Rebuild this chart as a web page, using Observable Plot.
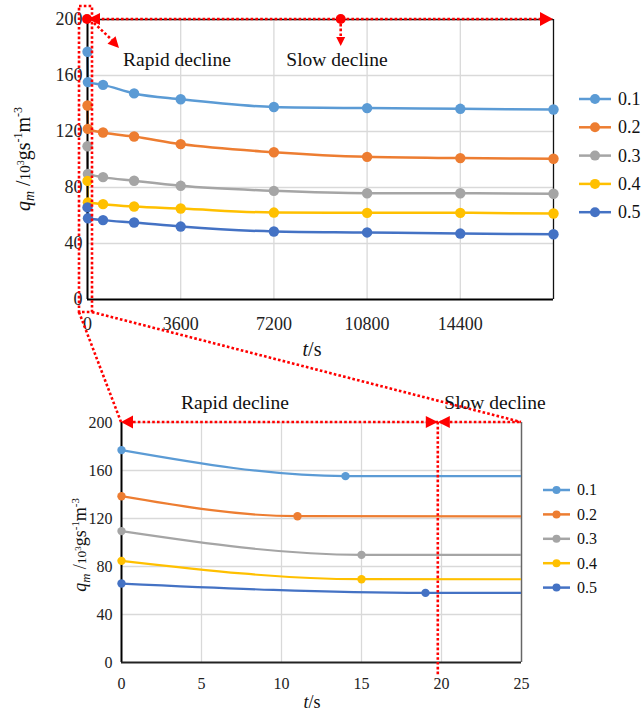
<!DOCTYPE html>
<html><head><meta charset="utf-8">
<script src="https://cdn.jsdelivr.net/npm/d3@7"></script>
<script src="https://cdn.jsdelivr.net/npm/@observablehq/plot@0.6"></script>
<style>
body{margin:0;background:#fff;}
#wrap{position:relative;width:641px;height:712px;font-family:"Liberation Serif","DejaVu Serif",serif;}
#wrap > svg{position:absolute;left:0;}
#wrap svg text{font-family:"Liberation Serif","DejaVu Serif",serif;}
</style></head><body><div id="wrap"></div>
<script>
// ---- data ----
const seriesNames = ["0.1", "0.2", "0.3", "0.4", "0.5"];
const seriesColors = ["#5B9BD5", "#ED7D31", "#A5A5A5", "#FFC000", "#4472C4"];
const breakTimes = [14, 11, 15, 15, 19];            // end of rapid decline (s)
const laterTimes = [600, 1800, 3600, 7200, 10800, 14400, 18000];
const q01 = [177, 155.3, 153.3, 147.2, 143, 137.5, 136.7, 136.2, 135.7];
const q02 = [138.6, 121.9, 119.3, 116.4, 111, 105.2, 101.9, 101, 100.5];
const q03 = [109.5, 89.7, 87.4, 84.8, 81.2, 77.6, 75.9, 75.9, 75.5];
const q04 = [84.7, 69.4, 68.1, 66.4, 65, 62.1, 61.9, 61.9, 61.4];
const q05 = [65.8, 58, 56.7, 55, 52.1, 48.6, 47.9, 47.1, 46.6];
const xTicksTop = [0, 3600, 7200, 10800, 14400];
const xTicksBottom = [0, 5, 10, 15, 20, 25];
const yTicks = [0, 40, 80, 120, 160, 200];
const slowMarkTop = 9800;     // red marker on the top chart
const splitBottom = 19.8;     // red divider on the bottom chart

const qSeries = [q01, q02, q03, q04, q05];
const data = [];
qSeries.forEach((qs, i) => {
  const ts = [0, breakTimes[i], ...laterTimes];
  qs.forEach((q, j) => data.push({t: ts[j], q, s: seriesNames[i]}));
});

const FONT = '"Liberation Serif","DejaVu Serif",serif';
const wrap = document.getElementById("wrap");

// ---- top chart ----
const topPlot = Plot.plot({
  width: 641, height: 360,
  marginLeft: 87, marginRight: 88, marginTop: 19, marginBottom: 61,
  style: {fontFamily: FONT, fontSize: "18px", color: "#222", background: "transparent", overflow: "visible"},
  x: {domain: [0, 18000], ticks: xTicksTop, tickSize: 0, tickPadding: 18, label: null, tickFormat: d => String(d)},
  y: {domain: [0, 200], ticks: yTicks, tickSize: 0, tickPadding: 5, label: null, tickFormat: d => String(d)},
  color: {domain: seriesNames, range: seriesColors},
  marks: [
    Plot.ruleX(xTicksTop.slice(1), {stroke: "#d9d9d9", strokeWidth: 1.3}),
    Plot.ruleY(yTicks.slice(1), {stroke: "#d9d9d9", strokeWidth: 1.3}),
    Plot.ruleX([18000], {stroke: "#111", strokeWidth: 1.3}),
    Plot.ruleY([200], {stroke: "#111", strokeWidth: 1.3}),
    Plot.line(data, {x: "t", y: "q", z: "s", stroke: "s", curve: "monotone-x", strokeWidth: 2.5}),
    Plot.ruleX([0], {stroke: "#000", strokeWidth: 2}),
    Plot.ruleY([0], {stroke: "#000", strokeWidth: 2}),
    Plot.dot(data, {x: "t", y: "q", fill: "s", r: 5.2})
  ]
});
topPlot.style.top = "0px";
wrap.appendChild(topPlot);

// ---- bottom chart ----
const dataZoom = data.filter(d => d.t <= 25);
const botPlot = Plot.plot({
  width: 641, height: 352,
  marginLeft: 121, marginRight: 120, marginTop: 62, marginBottom: 50,
  style: {fontFamily: FONT, fontSize: "16px", color: "#222", background: "transparent", overflow: "visible"},
  x: {domain: [0, 25], ticks: xTicksBottom, tickSize: 0, tickPadding: 15, label: null, tickFormat: d => String(d)},
  y: {domain: [0, 200], ticks: yTicks, tickSize: 0, tickPadding: 9, label: null, tickFormat: d => String(d)},
  color: {domain: seriesNames, range: seriesColors},
  marks: [
    Plot.ruleX(xTicksBottom.slice(1, -1), {stroke: "#d9d9d9", strokeWidth: 1.3}),
    Plot.ruleY(yTicks.slice(1), {stroke: "#d9d9d9", strokeWidth: 1.3}),
    Plot.ruleX([25], {stroke: "#666", strokeWidth: 1.5}),
    Plot.line(data, {x: "t", y: "q", z: "s", stroke: "s", curve: "monotone-x", strokeWidth: 2.2, clip: true}),
    Plot.ruleX([0], {stroke: "#000", strokeWidth: 2}),
    Plot.ruleY([0], {stroke: "#222", strokeWidth: 2}),
    Plot.dot(dataZoom, {x: "t", y: "q", fill: "s", r: 4.2})
  ]
});
botPlot.style.top = "360px";
wrap.appendChild(botPlot);

// ---- overlay: titles, legends, red annotations ----
const xT = v => topPlot.scale("x").apply(v);
const yT = v => topPlot.scale("y").apply(v);
const OY = 360;
const xB = v => botPlot.scale("x").apply(v);
const yB = v => botPlot.scale("y").apply(v) + OY;

const svg = d3.select(wrap).append("svg")
  .attr("width", 641).attr("height", 712)
  .attr("font-family", FONT)
  .style("top", "0px").style("overflow", "visible");

const RED = "#ff0000";
const dotted = sel => sel.attr("stroke", RED).attr("stroke-width", 2.6).attr("stroke-dasharray", "2.6 2.2").attr("fill", "none");
function seg(x1, y1, x2, y2) { svg.append("line").attr("x1", x1).attr("y1", y1).attr("x2", x2).attr("y2", y2).call(dotted); }
function head(tx, ty, angle, len, half) {
  const a = angle * Math.PI / 180;
  const bx = tx - len * Math.cos(a), by = ty - len * Math.sin(a);
  const px = -Math.sin(a) * half, py = Math.cos(a) * half;
  svg.append("polygon").attr("points", `${tx},${ty} ${bx + px},${by + py} ${bx - px},${by - py}`).attr("fill", RED);
}
function label(x, y, txt, size) {
  svg.append("text").attr("x", x).attr("y", y).attr("text-anchor", "middle")
    .attr("font-size", size).attr("fill", "#111").text(txt);
}

// top chart annotations
const t200 = yT(200), t0 = xT(0), tEnd = xT(18000);
const rectL = t0 - 8, rectR = t0 + 5, rectT = 6, rectB = yT(0) + 13;
svg.append("rect").attr("x", rectL).attr("y", rectT).attr("width", rectR - rectL).attr("height", rectB - rectT).call(dotted);
seg(t0 + 10, t200, tEnd - 12, t200);
head(tEnd, t200, 0, 13, 7);
head(t0 + 1, t200, 180, 12, 6);
svg.append("circle").attr("cx", t0).attr("cy", t200).attr("r", 5).attr("fill", RED);
seg(t0 + 7, t200 + 4, t0 + 25, t200 + 21);
head(t0 + 32, t200 + 29, 47, 11, 5.5);
const sm = xT(slowMarkTop);
svg.append("circle").attr("cx", sm).attr("cy", t200).attr("r", 5).attr("fill", RED);
seg(sm, t200, sm, t200 + 19);
head(sm, t200 + 27, 90, 9, 4.5);
label(177, 66, "Rapid decline", 19.5);
label(337, 66, "Slow decline", 19.5);

// zoom connectors
seg(rectL, rectB, xB(0), yB(200));
seg(rectR, rectB, xB(25), yB(200));

// bottom chart annotations
const b200 = yB(200), bs = xB(splitBottom);
seg(xB(0) + 12, b200, xB(25), b200);
head(xB(0), b200, 180, 12, 6.5);
seg(bs, b200, bs, yB(0) + 13);
head(bs, b200, 0, 12, 6);
head(bs, b200, 180, 12, 6);
label(235, 409, "Rapid decline", 19.5);
label(495, 409, "Slow decline", 19.5);

// axis titles
function yTitle(x, y, size) {
  const t = svg.append("text").attr("transform", `translate(${x},${y}) rotate(-90)`)
    .attr("text-anchor", "middle").attr("font-size", size).attr("fill", "#111");
  const s = size;
  t.append("tspan").attr("font-style", "italic").text("q");
  t.append("tspan").attr("font-style", "italic").attr("font-size", s * 0.7).attr("dy", s * 0.22).text("m");
  t.append("tspan").attr("dy", -s * 0.22).text(" /");
  t.append("tspan").attr("font-size", s * 0.75).text("10");
  t.append("tspan").attr("font-size", s * 0.5).attr("dy", -s * 0.3).text("3");
  t.append("tspan").attr("dy", s * 0.3).text("gs");
  t.append("tspan").attr("font-size", s * 0.6).attr("dy", -s * 0.38).text("-1");
  t.append("tspan").attr("dy", s * 0.38).text("m");
  t.append("tspan").attr("font-size", s * 0.6).attr("dy", -s * 0.38).text("-3");
}
yTitle(30, (yT(0) + yT(200)) / 2, 20);
yTitle(86, (yB(0) + yB(200)) / 2 + 3, 18);

function xTitle(x, y, size) {
  const t = svg.append("text").attr("x", x).attr("y", y).attr("text-anchor", "middle").attr("font-size", size).attr("fill", "#111");
  t.append("tspan").attr("font-style", "italic").text("t");
  t.append("tspan").text("/s");
}
xTitle(312, 356, 20);
xTitle(312, 708, 18);

// legends
function legend(x0, y0, step, lineW, r, size) {
  seriesNames.forEach((name, i) => {
    const y = y0 + i * step;
    svg.append("line").attr("x1", x0).attr("x2", x0 + lineW).attr("y1", y).attr("y2", y)
      .attr("stroke", seriesColors[i]).attr("stroke-width", 2.5);
    svg.append("circle").attr("cx", x0 + lineW / 2).attr("cy", y).attr("r", r).attr("fill", seriesColors[i]);
    svg.append("text").attr("x", x0 + lineW + 7).attr("y", y + size * 0.34).attr("font-size", size).attr("fill", "#111").text(name);
  });
}
legend(579, 99, 28.3, 32, 5, 18);
legend(543, 490, 24.4, 27, 4, 16);
</script></body></html>
